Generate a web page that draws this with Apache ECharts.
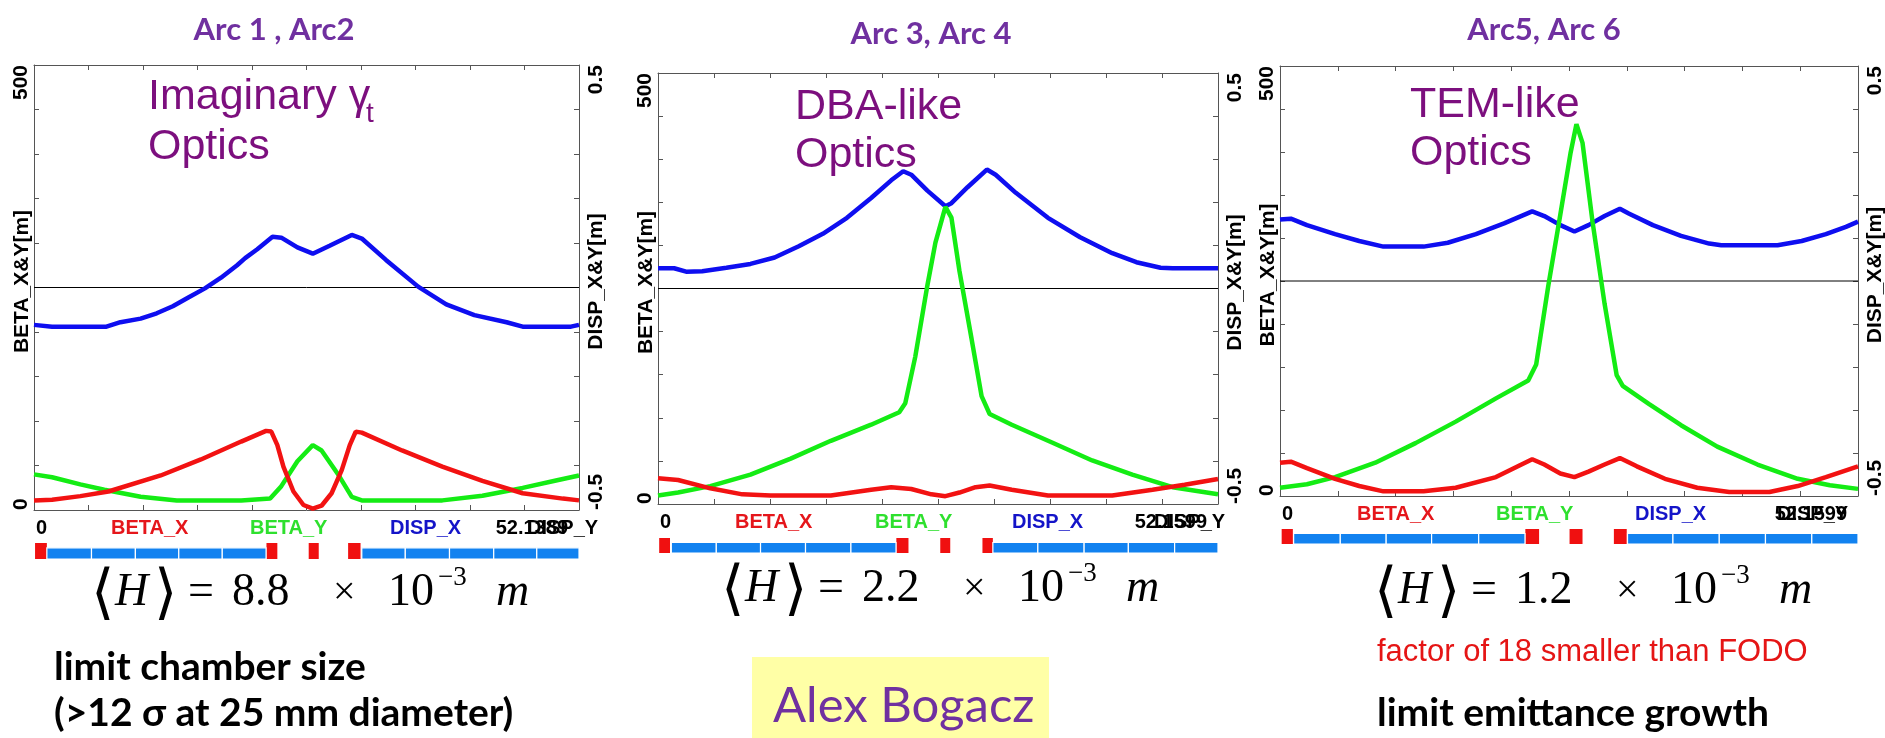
<!DOCTYPE html>
<html>
<head>
<meta charset="utf-8">
<script src="https://cdn.jsdelivr.net/npm/echarts@6/dist/echarts.min.js"></script>
<style>
    html, body { margin: 0; padding: 0; background: #fff; }
    #main { width: 1885px; height: 738px; }
</style>
</head>
<body>
<div id="main"></div>
<script type="text/javascript">

    // ---- data ----
    var titles = ['Arc 1 , Arc2', 'Arc 3, Arc 4', 'Arc5, Arc 6'];
    var opticsNames = [['Imaginary γ', 'Optics'], ['DBA-like', 'Optics'], ['TEM-like', 'Optics']];
    var cellLengths = [52.1389, 52.1599, 52.1599];
    var hValues = ['8.8', '2.2', '1.2'];
    var legendNames = ['BETA_X', 'BETA_Y', 'DISP_X', 'DISP_Y'];
    var betaLabels = [0, 500];
    var dispLabels = [-0.5, 0.5];

    // Arc 1 , Arc2  (s [m], value)
    var arc12BetaX = [[0, 10.8], [1.73, 11.6], [4.43, 15.6], [7.12, 20.8], [12.12, 38.8], [15.97, 56.8], [19.82, 76.9],
        [22.2, 88.9], [22.7, 88.1], [23.28, 72.9], [23.86, 48.8], [24.82, 20.8], [25.78, 5.6], [26.67, 1.6],
        [27.51, 4.8], [28.47, 18.8], [29.44, 44.8], [30.21, 72.9], [30.78, 88.1], [31.36, 86.9], [35.21, 66.9],
        [39.06, 48.8], [42.9, 32.8], [46.75, 18.8], [50.6, 12.8], [52.14, 10.8]];
    var arc12BetaY = [[0, 40], [1.73, 36.8], [4.43, 28.8], [6.73, 22.8], [10.2, 14.8], [13.66, 10.8], [19.82, 10.8],
        [22.59, 12.8], [23.66, 26.8], [25.2, 54.8], [26.67, 72.9], [27.51, 66.9], [29.05, 40.8], [30.4, 14.8],
        [31.36, 10.8], [39.06, 10.8], [42.9, 16], [46.75, 24.8], [49.83, 32.8], [52.14, 38.8]];
    var arc12DispX = [[0, -0.084], [1.73, -0.088], [6.93, -0.088], [8.27, -0.078], [10.2, -0.07], [11.74, -0.058],
        [13.28, -0.042], [14.81, -0.022], [16.35, -0.002], [17.89, 0.022], [19.43, 0.05], [20.2, 0.066],
        [21.36, 0.086], [22.82, 0.114], [23.66, 0.112], [25.2, 0.09], [26.67, 0.076], [28.28, 0.094],
        [30.4, 0.118], [31.36, 0.11], [33.67, 0.062], [36.75, 0.002], [39.44, -0.038], [42.13, -0.062],
        [45.21, -0.078], [46.75, -0.088], [51.37, -0.088], [52.14, -0.084]];
    var arc12DispY = [[0, 0], [52.1389, 0]];
    var arc12Quads = [[0.1, 1.23], [22.24, 23.28], [26.28, 27.24], [30.05, 31.24]];
    var arc12Dipoles = [[1.23, 5.5], [5.5, 9.7], [9.7, 13.85], [13.85, 18.01], [18.01, 22.2],
        [31.36, 35.52], [35.52, 39.75], [39.75, 43.98], [43.98, 48.1], [48.1, 52.14]];

    // Arc 3, Arc 4
    var arc34BetaX = [[0, 29.8], [1.87, 27.8], [4.87, 18.2], [7.86, 11.2], [10.48, 9.9], [16.1, 9.9], [19.85, 16.6],
        [21.72, 19.5], [23.59, 17.4], [25.46, 11.2], [26.77, 9.1], [28.08, 13.3], [29.58, 19.5], [30.89, 21.5],
        [32.95, 16.6], [36.32, 9.9], [42.31, 9.9], [46.06, 16.6], [49.05, 22.4], [52.16, 29]];
    var arc34BetaY = [[0, 9.9], [1.87, 13.3], [4.87, 20.7], [8.61, 34], [12.36, 52.6], [16.1, 73.3], [19.85, 92],
        [22.47, 106.5], [23.03, 116.8], [23.96, 170.7], [25.09, 253.5], [25.84, 303.2], [26.77, 344.7],
        [27.33, 332.2], [28.08, 270.1], [29.21, 191.4], [30.14, 125.1], [30.89, 104.4], [32.95, 92],
        [36.7, 71.3], [40.44, 50.5], [44.18, 34], [47.93, 19.5], [52.16, 11.2]];
    var arc34DispX = [[0, 0.047], [1.5, 0.047], [2.62, 0.039], [4.12, 0.04], [6.37, 0.048], [8.61, 0.057],
        [10.86, 0.072], [13.11, 0.098], [15.35, 0.127], [17.6, 0.164], [19.85, 0.21], [21.72, 0.251],
        [22.84, 0.272], [23.59, 0.264], [25.09, 0.227], [26.77, 0.191], [27.33, 0.198], [28.83, 0.235],
        [30.63, 0.276], [31.45, 0.264], [33.33, 0.222], [36.32, 0.164], [39.32, 0.119], [42.31, 0.082],
        [44.56, 0.061], [46.81, 0.048], [47.93, 0.047], [52.16, 0.047]];
    var arc34DispY = [[0, 0], [52.1599, 0]];
    var arc34Quads = [[0.11, 1.12], [22.2, 23.33], [26.29, 27.22], [30.22, 31.19]];
    var arc34Dipoles = [[1.24, 5.43], [5.43, 9.55], [9.55, 13.74], [13.74, 17.97], [17.97, 22.17],
        [31.19, 35.38], [35.38, 39.69], [39.69, 43.81], [43.81, 48.12], [48.12, 52.16]];

    // Arc5, Arc 6
    var arc56BetaX = [[0, 38.7], [0.98, 39.9], [2.43, 32.4], [4.97, 20], [7.15, 11.6], [9.33, 5.4], [12.96, 5.4],
        [15.86, 9.6], [19.49, 22], [22.76, 42.8], [23.85, 36.6], [25.3, 26.2], [26.57, 22], [27.84, 28.3],
        [29.29, 36.6], [30.67, 44.1], [32.2, 34.5], [34.74, 20], [37.65, 9.6], [40.54, 4.6], [44.17, 4.6],
        [46.72, 11.6], [49.26, 22], [52.16, 34.5]];
    var arc56BetaY = [[0, 9.6], [2.43, 13.7], [4.97, 22], [8.6, 38.7], [12.23, 61.5], [15.86, 86.5], [19.49, 113.5],
        [22.4, 134.2], [23.12, 153], [24.21, 244.4], [25.3, 327.5], [26.21, 398.2], [26.75, 432.3],
        [27.3, 410.6], [28.2, 319.2], [29.29, 223.6], [30.38, 140.5], [30.93, 128], [33.28, 107.2],
        [36.19, 82.3], [39.46, 57.4], [43.09, 36.6], [46.72, 20], [49.62, 12.5], [52.16, 8.3]];
    var arc56DispX = [[0, 0.143], [0.98, 0.145], [2.43, 0.13], [4.97, 0.109], [7.15, 0.093], [9.33, 0.08],
        [12.96, 0.08], [15.14, 0.089], [17.68, 0.109], [20.22, 0.134], [22.76, 0.162], [23.85, 0.151],
        [25.3, 0.13], [26.57, 0.115], [27.84, 0.13], [29.29, 0.151], [30.67, 0.168], [31.47, 0.157],
        [33.65, 0.13], [36.19, 0.105], [38.73, 0.087], [39.82, 0.083], [44.9, 0.083], [47.08, 0.093],
        [49.26, 0.109], [51.07, 0.126], [52.16, 0.138]];
    var arc56DispY = [[0, 0], [52.1599, 0]];
    var arc56Quads = [[0.15, 1.16], [22.14, 23.38], [26.13, 27.3], [30.13, 31.29]];
    var arc56Dipoles = [[1.23, 5.44], [5.44, 9.58], [9.58, 13.68], [13.68, 17.93], [17.93, 22.11],
        [31.36, 35.46], [35.46, 39.64], [39.64, 43.81], [43.81, 47.99], [47.99, 52.16]];

    var panels = [
        {betaX: arc12BetaX, betaY: arc12BetaY, dispX: arc12DispX, dispY: arc12DispY, quads: arc12Quads, dipoles: arc12Dipoles},
        {betaX: arc34BetaX, betaY: arc34BetaY, dispX: arc34DispX, dispY: arc34DispY, quads: arc34Quads, dipoles: arc34Dipoles},
        {betaX: arc56BetaX, betaY: arc56BetaY, dispX: arc56DispX, dispY: arc56DispY, quads: arc56Quads, dipoles: arc56Dipoles}
    ];

    // ---- layout (pixels) ----
    var boxes = [
        {left: 34, top: 65, width: 545, height: 445, strip: 543, stripH: 16, titleX: 274, titleY: 30,
            legendX: [111, 250, 390, 527], optX: 148, optY: [110, 160], hX: 93, hY: 607},
        {left: 658, top: 73, width: 560, height: 431, strip: 538, stripH: 15, titleX: 931, titleY: 34,
            legendX: [735, 875, 1012, 1154], optX: 795, optY: [120, 168], hX: 723, hY: 603},
        {left: 1280, top: 66, width: 578, height: 430, strip: 529, stripH: 15, titleX: 1544, titleY: 30,
            legendX: [1357, 1496, 1635, 1777], optX: 1410, optY: [118, 166], hX: 1376, hY: 605}
    ];

    var RED = '#f21212', GREEN = '#14ec14', BLUE = '#0e0ef0';
    var legendColors = ['#e5161b', '#2ee02e', '#1414c8', '#000'];
    var AXIS = '#555';
    var PURPLE = '#7030a0', MAGENTA = '#7c0f7e';
    var SANS = 'Liberation Sans, Arial, sans-serif';
    var SERIF = 'Liberation Serif, Times New Roman, serif';
    var LATO = 'Lato, Open Sans, sans-serif';

    function txt(x, y, text, font, color, align, rotation) {
        return {
            type: 'text', x: x, y: y, rotation: rotation || 0, silent: true,
            style: {text: text, font: font, fill: color, align: align || 'left', verticalAlign: 'middle'}
        };
    }

    var option = {
        animation: false,
        backgroundColor: '#fff',
        grid: [], xAxis: [], yAxis: [], series: [], legend: [], graphic: []
    };

    panels.forEach(function (p, i) {
        var b = boxes[i];
        var L = cellLengths[i];
        var xTicks = [], bTicks = [], dTicks = [];
        for (var k = 0; k <= 10; k++) {
            xTicks.push(L * k / 10);
            bTicks.push(50 * k);
            dTicks.push(Math.round((-0.5 + 0.1 * k) * 10) / 10);
        }

        option.grid.push({left: b.left, top: b.top, width: b.width, height: b.height, outerBoundsMode: 'none'});
        option.grid.push({left: b.left, top: b.strip, width: b.width, height: b.stripH, outerBoundsMode: 'none'});

        var line = {show: true, onZero: false, lineStyle: {color: AXIS, width: 1}};
        var tick = {show: true, inside: true, length: 5, lineStyle: {color: AXIS}};

        option.xAxis.push({
            type: 'value', gridIndex: 2 * i, min: 0, max: L, position: 'bottom',
            axisLine: line, splitLine: {show: false},
            axisTick: Object.assign({customValues: xTicks}, tick),
            axisLabel: {
                customValues: [0, L], margin: 8, padding: [0, 11, 0, 2],
                alignMinLabel: 'left', alignMaxLabel: 'right',
                color: '#000', fontFamily: SANS, fontSize: 20, fontWeight: 'bold',
                formatter: function (v) { return v === 0 ? '0' : String(L); }
            }
        });
        option.xAxis.push({
            type: 'value', gridIndex: 2 * i, min: 0, max: L, position: 'top',
            axisLine: line, splitLine: {show: false},
            axisTick: Object.assign({customValues: xTicks}, tick),
            axisLabel: {show: false}
        });
        option.xAxis.push({type: 'value', gridIndex: 2 * i + 1, min: 0, max: L, show: false});

        var labelStyle = {color: '#000', fontFamily: SANS, fontSize: 21, fontWeight: 'bold'};
        option.yAxis.push({
            type: 'value', gridIndex: 2 * i, min: 0, max: 500, position: 'left',
            axisLine: line, splitLine: {show: false},
            axisTick: Object.assign({customValues: bTicks}, tick),
            axisLabel: Object.assign({
                customValues: betaLabels, rotate: 90, margin: 2, verticalAlign: 'bottom',
                alignMinLabel: 'left', alignMaxLabel: 'right'
            }, labelStyle)
        });
        option.yAxis.push({
            type: 'value', gridIndex: 2 * i, min: -0.5, max: 0.5, position: 'right',
            axisLine: line, splitLine: {show: false},
            axisTick: Object.assign({customValues: dTicks}, tick),
            axisLabel: Object.assign({
                customValues: dispLabels, rotate: 90, margin: 7, verticalAlign: 'top',
                alignMinLabel: 'left', alignMaxLabel: 'right'
            }, labelStyle)
        });
        option.yAxis.push({type: 'value', gridIndex: 2 * i + 1, min: 0, max: 1, show: false});

        // axis titles, rotated like the axis labels
        var midY = b.top + b.height / 2 - 6;
        option.graphic.push(txt(b.left - 12, midY, 'BETA_X&Y[m]', 'bold 21px ' + SANS, '#000', 'center', Math.PI / 2));
        option.graphic.push(txt(b.left + b.width + 17, midY, 'DISP_X&Y[m]', 'bold 21px ' + SANS, '#000', 'center', Math.PI / 2));

        function curve(name, data, yIdx, color, width) {
            return {
                name: name, type: 'line', xAxisIndex: 3 * i, yAxisIndex: 3 * i + yIdx, data: data,
                showSymbol: false, symbol: 'none', silent: true,
                lineStyle: {color: color, width: width}, itemStyle: {color: color}
            };
        }
        option.series.push(curve('DISP_Y', p.dispY, 1, '#000', 1));
        option.series.push(curve('DISP_X', p.dispX, 1, BLUE, 4.5));
        option.series.push(curve('BETA_Y', p.betaY, 0, GREEN, 4.5));
        option.series.push(curve('BETA_X', p.betaX, 0, RED, 4.5));

        // magnet lattice strip
        var elements = p.quads.map(function (q) { return [q[0], q[1], 1]; })
            .concat(p.dipoles.map(function (d) { return [d[0], d[1], 0]; }));
        option.series.push({
            type: 'custom', xAxisIndex: 3 * i + 2, yAxisIndex: 3 * i + 2, data: elements, silent: true,
            renderItem: function (params, api) {
                var quad = api.value(2) === 1;
                var p0 = api.coord([api.value(0), quad ? 1 : 0.7]);
                var p1 = api.coord([api.value(1), 0]);
                return {
                    type: 'rect',
                    shape: {x: p0[0], y: p0[1], width: p1[0] - p0[0], height: p1[1] - p0[1]},
                    style: quad ? {fill: '#f01010'} : {fill: '#1282f0', stroke: '#fff', lineWidth: 1.2}
                };
            }
        });

        // legend row under the plot
        var row = b.top + b.height + 18;
        legendNames.forEach(function (n, j) {
            option.legend.push({
                data: [n], left: b.legendX[j] - 5, top: row - 10, icon: 'none', itemWidth: 0, itemHeight: 20,
                padding: 0, selectedMode: false,
                textStyle: {color: legendColors[j], fontFamily: SANS, fontSize: 20, fontWeight: 'bold'}
            });
        });

        // titles and labels
        option.graphic.push(txt(b.titleX, b.titleY, titles[i], 'bold 31px ' + LATO, PURPLE, 'center'));
        option.graphic.push(txt(b.optX, b.optY[0] - 13, opticsNames[i][0], '43px ' + SANS, MAGENTA));
        option.graphic.push(txt(b.optX, b.optY[1] - 13, opticsNames[i][1], '43px ' + SANS, MAGENTA));

        // <H> = v x 10^-3 m
        var hx = b.hX, hy = b.hY - 14;
        option.graphic.push(txt(hx - 2, hy + 3, '⟨', '60px DejaVu Serif, DejaVu Sans', '#000'));
        option.graphic.push(txt(hx + 22, hy, 'H', 'italic 46px ' + SERIF, '#000'));
        option.graphic.push(txt(hx + 61, hy + 3, '⟩', '60px DejaVu Serif, DejaVu Sans', '#000'));
        option.graphic.push(txt(hx + 95, hy, '=', '46px ' + SERIF, '#000'));
        option.graphic.push(txt(hx + 139, hy, hValues[i], '46px ' + SERIF, '#000'));
        option.graphic.push(txt(hx + 240, hy, '×', '40px ' + SERIF, '#000'));
        option.graphic.push(txt(hx + 295, hy, '10', '46px ' + SERIF, '#000'));
        option.graphic.push(txt(hx + 345, hy - 15, '−3', '27px ' + SERIF, '#000'));
        option.graphic.push(txt(hx + 403, hy, 'm', 'italic 46px ' + SERIF, '#000'));
    });

    option.graphic.push(txt(366, 114, 't', '28px ' + SANS, MAGENTA));
    option.graphic.push(txt(54, 667, 'limit chamber size', 'bold 39px ' + LATO, '#000'));
    option.graphic.push(txt(54, 713, '(>12 σ at 25 mm diameter)', 'bold 39px ' + LATO, '#000'));
    option.graphic.push({
        type: 'rect', silent: true, shape: {x: 752, y: 657, width: 297, height: 81},
        style: {fill: '#ffffa6'}
    });
    option.graphic.push(txt(773, 706, 'Alex Bogacz', '49px ' + LATO, PURPLE));
    option.graphic.push(txt(1377, 652, 'factor of 18 smaller than FODO', '31px ' + SANS, '#e51515'));
    option.graphic.push(txt(1377, 713, 'limit emittance growth', 'bold 39px ' + LATO, '#000'));

    var myChart = echarts.init(document.getElementById('main'));
    myChart.setOption(option);

</script>
</body>
</html>
